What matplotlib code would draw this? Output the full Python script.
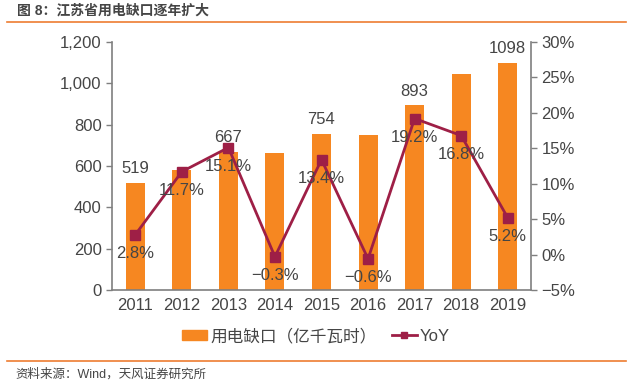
import matplotlib.pyplot as plt
import matplotlib.lines as mlines
import matplotlib.patches as mpatches
import numpy as np

plt.rcParams['font.family'] = ['Liberation Sans', 'Noto Sans CJK SC', 'DejaVu Sans']

years = ['2011', '2012', '2013', '2014', '2015', '2016', '2017', '2018', '2019']
gap = [519, 580, 667, 665, 754, 750, 893, 1043, 1098]
yoy = [2.8, 11.7, 15.1, -0.3, 13.4, -0.6, 19.2, 16.8, 5.2]
gap_labels = {0: '519', 2: '667', 4: '754', 6: '893', 8: '1098'}

bar_color = '#F68721'
line_color = '#9E1F46'
text_color = '#454545'
spine_color = '#7F7F7F'

fig = plt.figure(figsize=(6.33, 3.84), dpi=100)
W, H = 633, 384
ax = fig.add_axes([112 / W, 1 - 290 / H, 419 / W, 248 / H])
x = np.arange(len(years))

ax.bar(x, gap, width=0.41, color=bar_color, zorder=2)
ax.set_xlim(-0.5, len(years) - 0.5)
ax.set_ylim(0, 1200)
ax.set_yticks(np.arange(0, 1201, 200))
ax.set_yticklabels(['{:,}'.format(v) for v in range(0, 1201, 200)])
ax.set_xticks(x)
ax.set_xticklabels(years)

for i, s in gap_labels.items():
    ax.annotate(s, (x[i], gap[i]), xytext=(0, 5), textcoords='offset points',
                ha='center', va='bottom', fontsize=12, color=text_color)

ax2 = ax.twinx()
ax2.plot(x, yoy, color=line_color, lw=2, marker='s', ms=7, zorder=3)
ax2.set_ylim(-5, 30)
ax2.set_yticks(np.arange(-5, 31, 5))
ax2.set_yticklabels(['\u2212{}%'.format(-v) if v < 0 else '{}%'.format(v) for v in range(-5, 31, 5)])
for i, v in enumerate(yoy):
    s = '\u2212{:.1f}%'.format(-v) if v < 0 else '{:.1f}%'.format(v)
    ax2.annotate(s, (x[i], v), xytext=(0, -8), textcoords='offset points',
                 ha='center', va='top', fontsize=12, color=text_color)

for a in (ax, ax2):
    a.spines['top'].set_visible(False)
    for side in ('left', 'right', 'bottom'):
        a.spines[side].set_color(spine_color)
        a.spines[side].set_linewidth(1.2)
    a.tick_params(colors=text_color, labelsize=12, length=4, width=1, color=spine_color)
    a.tick_params(axis='x', length=0, pad=6)
ax.spines['right'].set_visible(False)
ax2.spines['left'].set_visible(False)
ax2.spines['bottom'].set_visible(False)

# legend
handles = [mpatches.Patch(color=bar_color, label='用电缺口（亿千瓦时）'),
           mlines.Line2D([], [], color=line_color, lw=2, marker='s', ms=4, label='YoY')]
fig.legend(handles=handles, loc='center', bbox_to_anchor=(316 / W, 1 - 336 / H),
           ncol=2, frameon=False, fontsize=12, handlelength=1.5, handleheight=0.6,
           columnspacing=0.9, handletextpad=0.2, labelcolor=text_color)

# title and source
fig.text(17 / W, 1 - 11 / H, '图 8：江苏省用电缺口逐年扩大', fontsize=10, fontweight='bold',
         color=text_color, va='center')
fig.add_artist(mlines.Line2D([7 / W, 626 / W], [1 - 22 / H, 1 - 22 / H], color='#ED7D31', lw=1.2))
fig.add_artist(mlines.Line2D([7 / W, 626 / W], [1 - 361 / H, 1 - 361 / H], color='#ED7D31', lw=1.2))
fig.text(15 / W, 1 - 374 / H, '资料来源：Wind，天风证券研究所', fontsize=9, color=text_color, va='center')

fig.savefig('out.png', dpi=100)
